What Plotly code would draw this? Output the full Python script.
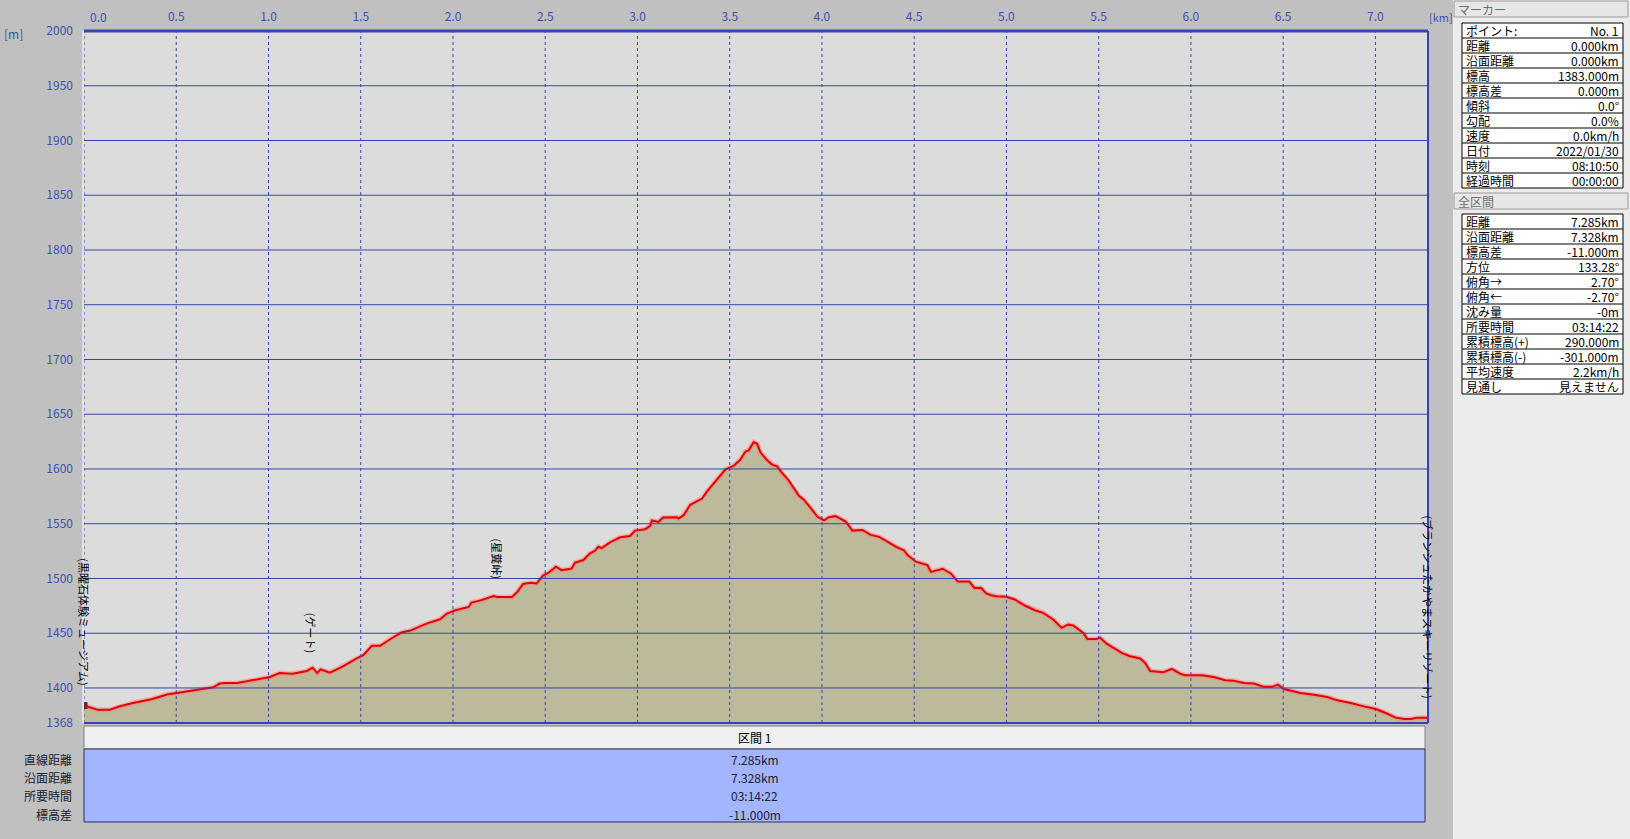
import plotly.graph_objects as go

# ---------------- data ----------------
dist_km = [0.000, 0.030, 0.075, 0.138, 0.190, 0.260, 0.370, 0.450, 0.520, 0.610,
           0.700, 0.735, 0.770, 0.830, 0.920, 1.007, 1.060, 1.130, 1.207, 1.239,
           1.264, 1.282, 1.333, 1.406, 1.478, 1.514, 1.560, 1.605, 1.659, 1.720,
           1.768, 1.860, 1.930, 1.967, 2.013, 2.085, 2.100, 2.150, 2.220, 2.240,
           2.320, 2.350, 2.380, 2.420, 2.453, 2.489, 2.516, 2.558, 2.589, 2.643,
           2.661, 2.707, 2.743, 2.770, 2.788, 2.806, 2.851, 2.906, 2.960, 2.987,
           3.042, 3.069, 3.078, 3.114, 3.138, 3.214, 3.223, 3.250, 3.286, 3.350,
           3.377, 3.422, 3.476, 3.522, 3.558, 3.585, 3.603, 3.630, 3.649, 3.667,
           3.703, 3.730, 3.757, 3.784, 3.820, 3.875, 3.902, 3.947, 3.975, 4.011,
           4.038, 4.074, 4.129, 4.165, 4.219, 4.264, 4.310, 4.364, 4.400, 4.446,
           4.464, 4.509, 4.572, 4.590, 4.654, 4.699, 4.736, 4.799, 4.826, 4.862,
           4.891, 4.917, 4.946, 5.000, 5.045, 5.100, 5.154, 5.199, 5.254, 5.299,
           5.335, 5.362, 5.417, 5.438, 5.489, 5.507, 5.543, 5.625, 5.670, 5.725,
           5.752, 5.779, 5.851, 5.897, 5.942, 5.969, 6.060, 6.123, 6.187, 6.232,
           6.286, 6.341, 6.395, 6.440, 6.471, 6.504, 6.594, 6.667, 6.739, 6.793,
           6.866, 6.938, 7.002, 7.056, 7.110, 7.156, 7.192, 7.228, 7.285]
elev_m = [1384.0, 1382.5, 1380.0, 1380.0, 1383.0, 1386.0, 1390.0, 1394.0, 1396.0, 1398.5,
          1400.6, 1404.0, 1404.5, 1404.5, 1407.0, 1410.0, 1413.6, 1413.0, 1415.5, 1418.5,
          1413.6, 1417.0, 1414.0, 1420.0, 1427.0, 1430.0, 1438.5, 1438.5, 1444.5, 1450.6,
          1452.4, 1459.0, 1462.7, 1468.0, 1471.0, 1474.0, 1478.0, 1480.0, 1484.0, 1483.0,
          1483.0, 1488.0, 1495.0, 1496.0, 1495.4, 1502.8, 1505.0, 1510.7, 1507.6, 1509.0,
          1514.4, 1516.8, 1523.0, 1525.4, 1529.0, 1527.8, 1533.0, 1537.6, 1538.8, 1543.7,
          1545.0, 1548.0, 1553.0, 1551.7, 1555.7, 1556.0, 1554.7, 1557.8, 1567.3, 1573.0,
          1579.5, 1588.7, 1599.4, 1603.0, 1608.6, 1616.0, 1617.0, 1624.5, 1623.0, 1615.0,
          1608.0, 1604.0, 1602.4, 1596.3, 1589.6, 1575.5, 1572.0, 1562.7, 1556.6, 1553.0,
          1556.0, 1557.0, 1552.0, 1543.7, 1544.3, 1539.8, 1538.0, 1532.7, 1529.0, 1525.4,
          1521.4, 1515.3, 1512.2, 1506.0, 1508.9, 1504.6, 1497.2, 1497.2, 1491.4, 1491.5,
          1486.3, 1484.7, 1483.8, 1483.2, 1480.8, 1475.3, 1471.0, 1468.6, 1462.5, 1454.9,
          1458.0, 1457.0, 1450.3, 1444.8, 1444.8, 1446.0, 1440.5, 1432.0, 1429.0, 1427.0,
          1422.9, 1415.5, 1414.3, 1417.4, 1413.0, 1411.6, 1411.6, 1410.0, 1407.0, 1406.7,
          1404.6, 1404.0, 1401.0, 1401.0, 1403.0, 1399.0, 1395.4, 1393.9, 1391.8, 1388.7,
          1386.3, 1383.2, 1380.8, 1377.1, 1372.9, 1371.6, 1371.6, 1372.9, 1372.9]

x_ticks = [0.0, 0.5, 1.0, 1.5, 2.0, 2.5, 3.0, 3.5, 4.0, 4.5, 5.0, 5.5, 6.0, 6.5, 7.0]
x_tick_labels = ["0.0", "0.5", "1.0", "1.5", "2.0", "2.5", "3.0", "3.5", "4.0", "4.5",
                 "5.0", "5.5", "6.0", "6.5", "7.0"]
y_ticks = [1368, 1400, 1450, 1500, 1550, 1600, 1650, 1700, 1750, 1800, 1850, 1900, 1950, 2000]
y_tick_labels = ["1368", "1400", "1450", "1500", "1550", "1600", "1650", "1700", "1750",
                 "1800", "1850", "1900", "1950", "2000"]

waypoint_names = ["(黒曜石体験ミュージアム)", "(ゲート)", "(星糞峠)", "(ブランシュたかやまスキーリゾート)"]
waypoint_km = [0.0, 1.23, 2.24, 7.285]
waypoint_mid_m = [1461.0, 1450.5, 1518.0, 1474.5]

marker_labels = ["ポイント:", "距離", "沿面距離", "標高", "標高差", "傾斜", "勾配", "速度",
                 "日付", "時刻", "経過時間"]
marker_values = ["No. 1", "0.000km", "0.000km", "1383.000m", "0.000m", "0.0°", "0.0%",
                 "0.0km/h", "2022/01/30", "08:10:50", "00:00:00"]
section_labels = ["距離", "沿面距離", "標高差", "方位", "俯角→", "俯角←", "沈み量", "所要時間",
                  "累積標高(+)", "累積標高(-)", "平均速度", "見通し"]
section_values = ["7.285km", "7.328km", "-11.000m", "133.28°", "2.70°", "-2.70°", "-0m",
                  "03:14:22", "290.000m", "-301.000m", "2.2km/h", "見えません"]
summary_labels = ["直線距離", "沿面距離", "所要時間", "標高差"]
summary_values = ["7.285km", "7.328km", "03:14:22", "-11.000m"]
section_title = "区間 1"

# ---------------- layout helpers ----------------
W, H = 1630, 839
L, R, T, B = 84, 1428, 31, 723
X_MAX = 7.285
Y_MIN, Y_MAX = 1368, 2000
FONT = "Noto Sans CJK JP"
BLUE = "#3444b4"
TICK_BLUE = "#3c50b4"


def px(x):
    return (x - L) / (R - L)


def py(y):
    return (B - y) / (B - T)


fig = go.Figure()

# glow + profile line with fill
fig.add_trace(go.Scatter(x=dist_km, y=elev_m, mode="lines", fill="tozeroy",
                         fillcolor="#bdba9b", line=dict(color="rgba(255,120,120,0.45)", width=5),
                         hoverinfo="skip", showlegend=False))
fig.add_trace(go.Scatter(x=dist_km, y=elev_m, mode="lines",
                         line=dict(color="#e60000", width=2), showlegend=False))
fig.add_trace(go.Scatter(x=[dist_km[0]], y=[elev_m[0]], mode="markers",
                         marker=dict(color="#8a1c1c", size=7, symbol="square"),
                         showlegend=False))

shapes = []
# gridlines drawn above the fill
for v in y_ticks[1:-1]:
    shapes.append(dict(type="line", xref="paper", yref="y", x0=0, x1=1, y0=v, y1=v,
                       line=dict(color=BLUE, width=1), layer="above"))
for v in x_ticks:
    shapes.append(dict(type="line", xref="x", yref="paper", x0=v, x1=v, y0=0, y1=1,
                       line=dict(color=BLUE, width=1, dash="dot"), layer="above"))
# plot frame
shapes.append(dict(type="line", xref="paper", yref="paper", x0=0, x1=1, y0=1, y1=1,
                   line=dict(color=BLUE, width=3)))
shapes.append(dict(type="line", xref="paper", yref="paper", x0=0, x1=1, y0=0, y1=0,
                   line=dict(color=BLUE, width=2)))
shapes.append(dict(type="line", xref="paper", yref="paper", x0=1, x1=1, y0=0, y1=1,
                   line=dict(color=BLUE, width=2)))
shapes.append(dict(type="line", xref="paper", yref="paper", x0=px(83), x1=px(83), y0=0, y1=1,
                   line=dict(color="#ffffff", width=1)))

# right panel background
shapes.append(dict(type="rect", xref="paper", yref="paper", x0=px(1453), x1=px(W), y0=py(H), y1=py(0),
                   fillcolor="#ececec", line=dict(width=0), layer="below"))

annotations = []

# section header boxes
for top, title in [(0, "マーカー"), (192, "全区間")]:
    shapes.append(dict(type="rect", xref="paper", yref="paper", x0=px(1454), x1=px(1628),
                       y0=py(top + 17), y1=py(top + 1), fillcolor="#e6e6e6",
                       line=dict(color="#9a9a9a", width=1), layer="below"))
    annotations.append(dict(text=title, xref="paper", yref="paper", x=px(1456), y=py(top + 9),
                            xanchor="left", yanchor="middle", showarrow=False,
                            font=dict(family=FONT, size=12, color="#707070")))


def info_table(top, labels, values, row_h=15.0):
    x0, x1 = 1462, 1623
    n = len(labels)
    shapes.append(dict(type="rect", xref="paper", yref="paper", x0=px(x0), x1=px(x1),
                       y0=py(top + n * row_h), y1=py(top), fillcolor="#ffffff",
                       line=dict(color="#000000", width=1)))
    for i in range(1, n):
        yy = top + i * row_h
        shapes.append(dict(type="line", xref="paper", yref="paper", x0=px(x0), x1=px(x1),
                           y0=py(yy), y1=py(yy), line=dict(color="#000000", width=1)))
    for i, (lab, val) in enumerate(zip(labels, values)):
        yc = top + (i + 0.5) * row_h
        annotations.append(dict(text=lab, xref="paper", yref="paper", x=px(x0 + 2), y=py(yc),
                                xanchor="left", yanchor="middle", showarrow=False,
                                font=dict(family=FONT, size=12, color="#000000")))
        annotations.append(dict(text=val, xref="paper", yref="paper", x=px(x1 - 2), y=py(yc),
                                xanchor="right", yanchor="middle", showarrow=False,
                                font=dict(family=FONT, size=12, color="#000000")))


info_table(23, marker_labels, marker_values)
info_table(214, section_labels, section_values)

# bottom summary table
shapes.append(dict(type="rect", xref="paper", yref="paper", x0=px(84), x1=px(1425),
                   y0=py(749), y1=py(726), fillcolor="#efefef", line=dict(color="#808080", width=1)))
shapes.append(dict(type="rect", xref="paper", yref="paper", x0=px(84), x1=px(1425),
                   y0=py(822), y1=py(749), fillcolor="#a3b5ff", line=dict(color="#303050", width=1)))
annotations.append(dict(text=section_title, xref="paper", yref="paper", x=px(754.5), y=py(737.5),
                        xanchor="center", yanchor="middle", showarrow=False,
                        font=dict(family=FONT, size=12, color="#000000")))
for i, (lab, val) in enumerate(zip(summary_labels, summary_values)):
    yc = 759 + i * 18.4
    annotations.append(dict(text=lab, xref="paper", yref="paper", x=px(74), y=py(yc),
                            xanchor="right", yanchor="middle", showarrow=False,
                            font=dict(family=FONT, size=12, color="#202030")))
    annotations.append(dict(text=val, xref="paper", yref="paper", x=px(754.5), y=py(yc),
                            xanchor="center", yanchor="middle", showarrow=False,
                            font=dict(family=FONT, size=12, color="#202030")))

# unit labels and the left-aligned first x tick label
annotations.append(dict(text="[m]", xref="paper", yref="paper", x=px(2), y=py(33),
                        xanchor="left", yanchor="middle", showarrow=False,
                        font=dict(family=FONT, size=12, color=TICK_BLUE)))
annotations.append(dict(text="[km]", xref="paper", yref="paper", x=px(1427), y=py(17),
                        xanchor="left", yanchor="middle", showarrow=False,
                        font=dict(family=FONT, size=11, color=TICK_BLUE)))
annotations.append(dict(text=x_tick_labels[0], xref="paper", yref="paper", x=px(88), y=py(17),
                        xanchor="left", yanchor="middle", showarrow=False,
                        font=dict(family=FONT, size=12, color=TICK_BLUE)))
shown_x_labels = [""] + x_tick_labels[1:]

# vertical waypoint labels
for name, km, mid_m in zip(waypoint_names, waypoint_km, waypoint_mid_m):
    annotations.append(dict(text=name, xref="x", yref="y", x=km, y=mid_m, textangle=90,
                            xanchor="center", yanchor="middle", showarrow=False,
                            font=dict(family=FONT, size=11, color="#000000")))

fig.update_layout(
    width=W, height=H, autosize=False,
    margin=dict(l=L, r=W - R, t=T, b=H - B, pad=0, autoexpand=False),
    paper_bgcolor="#c0c0c0", plot_bgcolor="#dcdcdc",
    shapes=shapes, annotations=annotations,
    showlegend=False,
    xaxis=dict(range=[0, X_MAX], side="top", tickvals=x_ticks, ticktext=shown_x_labels,
               showgrid=False, zeroline=False, showline=False, ticks="",
               ticklabelstandoff=7, automargin=False,
               tickfont=dict(family=FONT, size=12, color=TICK_BLUE), fixedrange=True),
    yaxis=dict(range=[Y_MIN, Y_MAX], tickvals=y_ticks, ticktext=y_tick_labels,
               showgrid=False, zeroline=False, showline=False, ticks="",
               ticklabelstandoff=10, automargin=False,
               tickfont=dict(family=FONT, size=12, color=TICK_BLUE), fixedrange=True),
)

fig.write_html("out.html", include_plotlyjs=True, config={"displayModeBar": False},
               post_script="document.body.style.margin='0px';document.body.style.overflow='hidden';")
